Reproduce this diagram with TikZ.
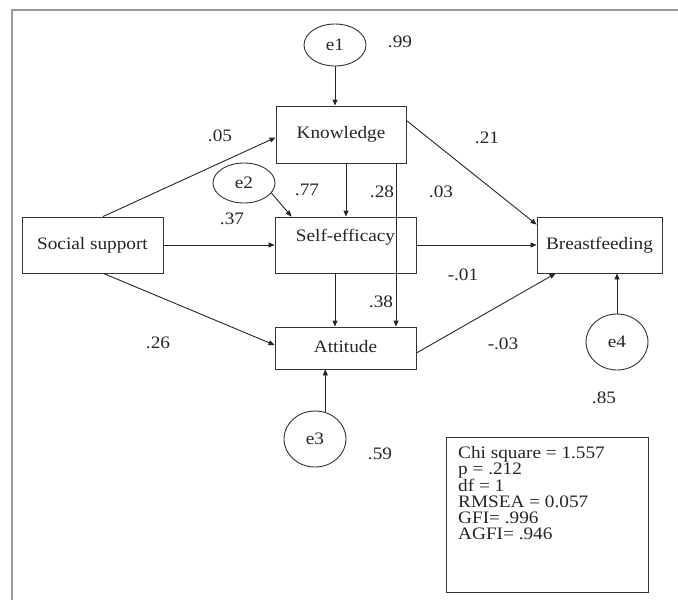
\documentclass[tikz,border=0pt]{standalone}
\usepackage{fontspec}
\setmainfont{Liberation Serif}[FakeStretch=1.1]
\usetikzlibrary{arrows.meta,shapes.geometric}
\begin{document}
\begin{tikzpicture}[x=1pt,y=-1pt,
  every node/.style={font=\fontsize{17.5}{16}\selectfont, text=black!85},
  varbox/.style={draw=black!80, line width=0.9pt, rectangle, inner sep=0pt, text height=12.5pt, text depth=4pt},
  errell/.style={draw=black!80, line width=0.9pt, ellipse, inner sep=0pt},
  coef/.style={inner sep=0pt},
  arr/.style={draw=black!85, line width=0.9pt, -{Triangle[length=6pt,width=5pt]}},
  frameline/.style={draw=black!40, line width=2pt}
]
\useasboundingbox (0,0) rectangle (678,600);
\fill[white] (0,0) rectangle (678,600);
\draw[frameline] (12,600) -- (12,10) -- (678,10);

% variables
\node[varbox, minimum width=130pt, minimum height=57pt] (K) at (341,134.5) {Knowledge};
\node[varbox, minimum width=141pt, minimum height=56pt, text depth=20pt] (SE) at (345.5,245) {Self-efficacy};
\node[varbox, minimum width=141pt, minimum height=56pt] (SS) at (92.5,245) {Social support};
\node[varbox, minimum width=125pt, minimum height=56pt] (BF) at (599.5,245) {Breastfeeding};
\node[varbox, minimum width=141pt, minimum height=42pt] (AT) at (345.5,348) {Attitude};

% errors
\node[errell, minimum width=62pt, minimum height=42pt] (e1) at (335,45) {e1};
\node[errell, minimum width=62pt, minimum height=40pt] (e2) at (244,183) {e2};
\node[errell, minimum width=62pt, minimum height=56pt] (e3) at (315,439) {e3};
\node[errell, minimum width=62pt, minimum height=56pt] (e4) at (617,342) {e4};

% connectors
\draw[arr] (e1.south) -- (e1.south |- K.north);
\draw[arr] (e2.-20) -- ([xshift=17pt]SE.north west);
\draw[arr] (e3.69) -- (e3.69 |- AT.south);
\draw[arr] (e4.north) -- (e4.north |- BF.south);

\draw[arr] ([xshift=10.5pt]SS.north) -- ([yshift=-3pt]K.west);
\draw[arr] (SS.east) -- (SE.west);
\draw[arr] ([xshift=11pt]SS.south) -- ([yshift=3pt]AT.west);

\draw[arr] ([xshift=5pt]K.south) -- ([xshift=5pt]K.south |- SE.north);
\draw[arr] ([xshift=55pt]K.south) -- ([xshift=55pt]K.south |- AT.north);
\draw[arr] ([yshift=14pt]K.east) -- ([yshift=-8pt]BF.north west);

\draw[arr] (SE.east) -- (BF.west);
\draw[arr] ([xshift=-10.5pt]SE.south) -- ([xshift=-10.5pt]SE.south |- AT.north);
\draw[arr] ([yshift=-5pt]AT.east) -- ([xshift=19pt]BF.south west);

% coefficients
\node[coef] (c99) at (400,42) {.99};
\node[coef] (c05) at (220,136) {.05};
\node[coef] (c21) at (487,138) {.21};
\node[coef] (c77) at (307,190) {.77};
\node[coef] (c28) at (382,192) {.28};
\node[coef] (c03) at (441,192) {.03};
\node[coef] (c37) at (232,219) {.37};
\node[coef] (cm01) at (463,275) {-.01};
\node[coef] (c38) at (381,302) {.38};
\node[coef] (c26) at (158,343) {.26};
\node[coef] (cm03) at (503,344) {-.03};
\node[coef] (c85) at (604,398) {.85};
\node[coef] (c59) at (380,454) {.59};

% fit statistics
\node[draw=black!80, line width=0.9pt, rectangle, minimum width=202pt, minimum height=155pt, anchor=north west] (stats) at (446,437) {};
\node[anchor=north west, align=left, inner sep=0pt] (statstext) at (458,446.5)
  {Chi square = 1.557\\ p = .212\\ df = 1\\ RMSEA = 0.057\\ GFI= .996\\ AGFI= .946};
\end{tikzpicture}
\end{document}
